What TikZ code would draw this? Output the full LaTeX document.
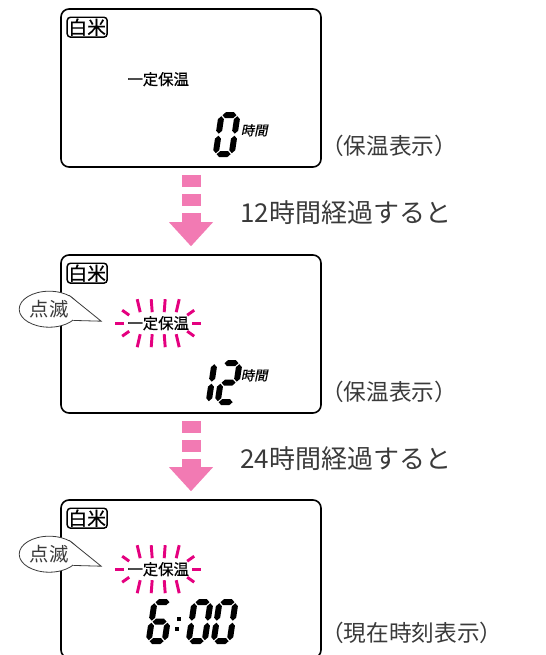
\documentclass[tikz,border=0pt]{standalone}
\usepackage{fontspec}
\newfontfamily\jpfont{Noto Sans CJK JP}
\newfontfamily\lcdjpfont[FakeBold=0.6]{Noto Sans CJK JP}
\newfontfamily\unitfont[FakeSlant=0.2, FakeBold=0.6]{Noto Sans CJK JP}
\usetikzlibrary{arrows.meta, calc, positioning, shapes.geometric}

\definecolor{flowpink}{HTML}{F27AB3}
\definecolor{blinkpink}{HTML}{E4007F}
\definecolor{labelgray}{HTML}{3A3A3A}

% seven segment pieces (px units, origin at bottom left of a digit)
\newcommand\hseg[1]{\fill (4,#1) -- ++(3,-3) -- ++(8,0) -- ++(3,3) -- ++(-3,3) -- ++(-8,0) -- cycle;}
\newcommand\vseg[2]{\fill (#1,#2) -- ++(3,3) -- ++(0,11.5) -- ++(-3,3) -- ++(-3,-3) -- ++(0,-11.5) -- cycle;}
\newcommand\segA{\hseg{-42}}
\newcommand\segG{\hseg{-22.5}}
\newcommand\segD{\hseg{-3}}
\newcommand\segF{\vseg{3}{-41}}
\newcommand\segE{\vseg{3}{-21.5}}
\newcommand\segB{\vseg{19}{-41}}
\newcommand\segC{\vseg{19}{-21.5}}
\newcommand\lcddigit[2]{%
  \begin{scope}[shift={#1}, xslant=0.15]
    \foreach \s in {#2} {\csname seg\s\endcsname}
  \end{scope}}

\begin{document}
\begin{tikzpicture}[
            x=0.75pt, y=-0.75pt,
            semithick,
            screen/.style={draw, line width=1.2pt, rounded corners=6pt,
                minimum width=195pt, minimum height=118.5pt, inner sep=0pt},
            mode tag/.style={draw, line width=1.1pt, rounded corners=2.5pt,
                inner sep=1pt, font=\lcdjpfont\fontsize{14}{14}\selectfont},
            keep label/.style={inner sep=0pt, font=\lcdjpfont\fontsize{11.5}{11.5}\selectfont},
            unit label/.style={inner sep=0pt, font=\unitfont\fontsize{10}{10}\selectfont},
            caption/.style={anchor=west, inner sep=0pt, text=labelgray,
                font=\jpfont\fontsize{17}{17}\selectfont},
            step label/.style={anchor=west, inner sep=0pt, text=labelgray,
                font=\jpfont\fontsize{19.5}{19.5}\selectfont},
            blink bubble/.style={ellipse, draw=labelgray, fill=white, line width=0.6pt,
                minimum width=45pt, minimum height=27pt, inner sep=0pt, text=labelgray,
                font=\jpfont\fontsize{14.5}{14.5}\selectfont},
            bubble line/.style={draw=labelgray, line width=0.6pt},
            blink ray/.style={blinkpink, line width=2.2pt},
            flow arrow/.style={flowpink, line width=14.25pt, dash pattern=on 9pt off 5.25pt,
                -{Triangle[width=33pt, length=18pt, line width=0pt]}}
        ]
        \useasboundingbox (0,0) rectangle (545,655);

        % screens
        \node[screen] (scr1) at (191,88) {};
        \node[screen] (scr2) at (191,334) {};
        \node[screen] (scr3) at (191,579) {};

        % mode tag and keep-warm label
        \foreach \n in {1,2,3} {
            \node[mode tag] (tag\n) at ($(scr\n.north west)+(27,19)$) {白米};
        }
        \node[keep label] (keep1) at ($(scr1.north west)+(98,71)$) {一定保温};
        \node[keep label] (keep2) at ($(scr2.north west)+(98,69)$) {一定保温};
        \node[keep label] (keep3) at ($(scr3.north west)+(98,70)$) {一定保温};

        % blinking rays
        \foreach \k in {keep2,keep3} {
            \begin{scope}[shift={(\k.center)}]
                \foreach \xa/\ya/\xb/\yb in {-34/0/-43/0, 34/0/43/0,
                        -29/-8/-36/-13, 29/-8/36/-13, -29/8/-36/13, 29/8/36/13,
                        -18/-11/-21/-24, -6/-11/-7/-24, 6/-11/7/-24, 18/-11/21/-24,
                        -18/11/-21/24, -6/11/-7/24, 6/11/7/24, 18/11/21/24} {
                    \draw[blink ray] (\xa,\ya) -- (\xb,\yb);
                }
            \end{scope}
        }

        % speech bubbles
        \node[blink bubble] (blink2) at ($(scr2.north west)+(-11,55)$) {点滅};
        \coordinate (tip2) at ($(scr2.north west)+(41,67)$);
        \fill[white] (blink2.35) -- (tip2) -- (blink2.-25) -- cycle;
        \draw[bubble line] (blink2.35) -- (tip2) -- (blink2.-25);

        \node[blink bubble] (blink3) at ($(scr3.north west)+(-11,55)$) {点滅};
        \coordinate (tip3) at ($(scr3.north west)+(41,67)$);
        \fill[white] (blink3.35) -- (tip3) -- (blink3.-25) -- cycle;
        \draw[bubble line] (blink3.35) -- (tip3) -- (blink3.-25);

        % digits
        \lcddigit{($(scr1.north west)+(152,149)$)}{A,B,C,D,E,F}
        \node[unit label] (unit1) at ($(scr1.north west)+(194,122)$) {時間};
        \lcddigit{($(scr2.north west)+(129,151)$)}{B,C}
        \lcddigit{($(scr2.north west)+(154,151)$)}{A,B,G,E,D}
        \node[unit label] (unit2) at ($(scr2.north west)+(194,121)$) {時間};
        \lcddigit{($(scr3.north west)+(85,145)$)}{A,F,G,E,D,C}
        \lcddigit{($(scr3.north west)+(125,145)$)}{A,B,C,D,E,F}
        \lcddigit{($(scr3.north west)+(150,145)$)}{A,B,C,D,E,F}
        \fill ($(scr3.north west)+(116.5,118)$) rectangle ++(4,4);
        \fill ($(scr3.north west)+(115,128)$) rectangle ++(4,4);

        % captions
        \node[caption] (cap1) at ($(scr1.south east)+(-1,-22)$) {（保温表示）};
        \node[caption] (cap2) at ($(scr2.south east)+(-1,-22)$) {（保温表示）};
        \node[caption] (cap3) at ($(scr3.north east)+(-1,134)$) {（現在時刻表示）};

        % steps
        \draw[flow arrow] ($(scr1.south)+(0,7)$) -- ($(scr2.north)+(0,-8)$);
        \node[step label] (after12) at ($(scr1.south)+(49,45)$) {12時間経過すると};
        \draw[flow arrow] ($(scr2.south)+(0,7)$) -- ($(scr3.north)+(0,-8)$);
        \node[step label] (after24) at ($(scr2.south)+(49,45)$) {24時間経過すると};

    \end{tikzpicture}
\end{document}
